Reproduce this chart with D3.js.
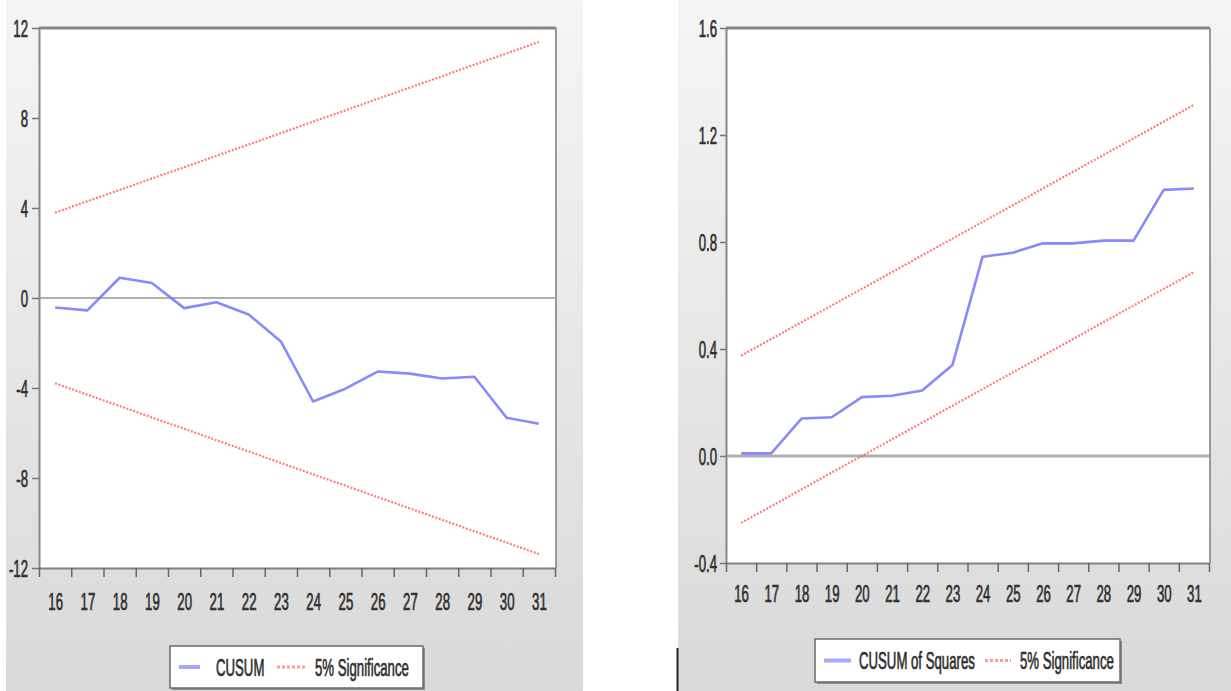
<!DOCTYPE html>
<html>
<head>
<meta charset="utf-8">
<script src="https://cdn.jsdelivr.net/npm/d3@7"></script>
<style>
  body { margin: 0; background: #fff; }
  svg { display: block; }
  text { font-family: "Liberation Sans", Arial, sans-serif; fill: #2e2e2e; stroke: #2e2e2e; stroke-width: 0.7px; }
</style>
</head>
<body>
<svg id="chart" width="1231" height="691"></svg>
<script>
// observation labels on the x axis
const periods = [16, 17, 18, 19, 20, 21, 22, 23, 24, 25, 26, 27, 28, 29, 30, 31];

// CUSUM test (left panel)
const cusum = [-0.42, -0.55, 0.9, 0.67, -0.45, -0.19, -0.73, -1.93, -4.6, -4.03, -3.27, -3.36, -3.58, -3.5, -5.32, -5.59];
const cusumUpper = [3.79, 4.30, 4.80, 5.31, 5.81, 6.32, 6.82, 7.33, 7.84, 8.34, 8.85, 9.35, 9.86, 10.37, 10.87, 11.38];
const cusumLower = [-3.79, -4.30, -4.80, -5.31, -5.81, -6.32, -6.82, -7.33, -7.84, -8.34, -8.85, -9.35, -9.86, -10.37, -10.87, -11.38];
const cusumTicks = [-12, -8, -4, 0, 4, 8, 12];

// CUSUM of squares test (right panel)
const cusumSq = [0.01, 0.01, 0.14, 0.145, 0.22, 0.225, 0.245, 0.34, 0.745, 0.76, 0.795, 0.795, 0.805, 0.805, 0.995, 1.0];
const sqUpper = [0.375, 0.4375, 0.5, 0.5625, 0.625, 0.6875, 0.75, 0.8125, 0.875, 0.9375, 1.0, 1.0625, 1.125, 1.1875, 1.25, 1.3125];
const sqLower = [-0.25, -0.1875, -0.125, -0.0625, 0.0, 0.0625, 0.125, 0.1875, 0.25, 0.3125, 0.375, 0.4375, 0.5, 0.5625, 0.625, 0.6875];
const sqTicks = [-0.4, 0.0, 0.4, 0.8, 1.2, 1.6];

const SX = 0.55; // narrow font look
const svg = d3.select('#chart');

const defs = svg.append('defs');
const grad = defs.append('linearGradient')
  .attr('id', 'bg').attr('x1', 0).attr('y1', 0).attr('x2', 0).attr('y2', 1);
grad.append('stop').attr('offset', '0%').attr('stop-color', '#f5f5f5');
grad.append('stop').attr('offset', '100%').attr('stop-color', '#d9d9d9');

function narrowText(sel, anchor) {
  sel.attr('text-anchor', anchor)
    .attr('transform', 'scale(' + SX + ',1)');
}

function drawPanel(cfg) {
  const g = svg.append('g');

  g.append('rect')
    .attr('x', cfg.bg[0]).attr('y', 0)
    .attr('width', cfg.bg[1] - cfg.bg[0]).attr('height', 691)
    .attr('fill', 'url(#bg)');

  const x = d3.scaleLinear().domain([15.5, 31.5]).range([cfg.left, cfg.right]);
  const y = d3.scaleLinear().domain(cfg.yDomain).range([cfg.bottom, cfg.top]);

  g.append('rect')
    .attr('x', cfg.left).attr('y', cfg.top)
    .attr('width', cfg.right - cfg.left).attr('height', cfg.bottom - cfg.top)
    .attr('fill', '#fff');

  // zero line
  g.append('line')
    .attr('x1', cfg.left).attr('x2', cfg.right)
    .attr('y1', y(0)).attr('y2', y(0))
    .attr('stroke', '#b0b0b0').attr('stroke-width', cfg.zeroWidth);

  // frame: top and right
  g.append('line')
    .attr('x1', cfg.left).attr('x2', cfg.right + 1)
    .attr('y1', cfg.top).attr('y2', cfg.top)
    .attr('stroke', '#858585').attr('stroke-width', 3);
  g.append('line')
    .attr('x1', cfg.right + 1).attr('x2', cfg.right + 1)
    .attr('y1', cfg.top).attr('y2', cfg.bottom)
    .attr('stroke', '#999').attr('stroke-width', 2);

  // y axis
  const yAxis = g.append('g')
    .attr('transform', 'translate(' + cfg.left + ',0)')
    .call(d3.axisLeft(y).tickValues(cfg.ticks).tickSize(cfg.yTick).tickSizeOuter(0)
      .tickFormat(cfg.fmt));
  yAxis.select('.domain').attr('stroke', '#888').attr('stroke-width', 2);
  yAxis.selectAll('.tick line').attr('stroke', '#777').attr('stroke-width', 1.5);
  yAxis.selectAll('.tick text')
    .attr('font-size', 24)
    .attr('fill', '#2e2e2e')
    .attr('x', -cfg.yLabelGap / SX)
    .attr('dy', '0.35em')
    .call(narrowText, 'end');

  // x axis: marks on boundaries, labels in the middle
  const xMarks = g.append('g')
    .attr('transform', 'translate(0,' + cfg.bottom + ')')
    .call(d3.axisBottom(x).tickValues(d3.range(15.5, 32, 1)).tickSize(9).tickSizeOuter(0)
      .tickFormat(''));
  xMarks.select('.domain').attr('stroke', '#808080').attr('stroke-width', 2);
  xMarks.selectAll('.tick line').attr('stroke', '#666').attr('stroke-width', 1.5);

  const xLabels = g.append('g')
    .attr('transform', 'translate(0,' + cfg.bottom + ')')
    .call(d3.axisBottom(x).tickValues(periods).tickSize(0).tickFormat(d3.format('d')));
  xLabels.select('.domain').remove();
  xLabels.selectAll('.tick text')
    .attr('font-size', 24)
    .attr('fill', '#2e2e2e')
    .attr('y', cfg.xLabelY)
    .attr('dy', null)
    .call(narrowText, 'middle');

  const line = d3.line()
    .x((d, i) => x(periods[i]))
    .y(d => y(d));

  [cfg.upper, cfg.lower].forEach(band => {
    g.append('path')
      .datum(band)
      .attr('d', line)
      .attr('fill', 'none')
      .attr('stroke', '#ff5a5a')
      .attr('stroke-width', 2.2)
      .attr('stroke-dasharray', '2,1.6')
      .attr('opacity', 0.8);
  });

  g.append('path')
    .datum(cfg.series)
    .attr('d', line)
    .attr('fill', 'none')
    .attr('stroke', '#7373ff')
    .attr('stroke-width', 2.6)
    .attr('stroke-linejoin', 'round')
    .attr('opacity', 0.85);

  // legend
  const lg = cfg.legend;
  g.append('rect')
    .attr('x', lg.x + 2).attr('y', lg.y + 2)
    .attr('width', lg.w).attr('height', lg.h)
    .attr('fill', '#8c8c8c');
  g.append('rect')
    .attr('x', lg.x).attr('y', lg.y)
    .attr('width', lg.w).attr('height', lg.h)
    .attr('fill', '#fff').attr('stroke', '#6a6a6a').attr('stroke-width', 1.5);

  const cy = lg.y + lg.h / 2;
  g.append('line')
    .attr('x1', lg.blue[0]).attr('x2', lg.blue[1])
    .attr('y1', cy).attr('y2', cy)
    .attr('stroke', '#a8a8ff').attr('stroke-width', 4);
  g.append('line')
    .attr('x1', lg.red[0]).attr('x2', lg.red[1])
    .attr('y1', cy).attr('y2', cy)
    .attr('stroke', '#ff9a9a').attr('stroke-width', 3)
    .attr('stroke-dasharray', '3,2');

  [[lg.label, lg.t1], ['5% Significance', lg.t2]].forEach(([txt, tx]) => {
    g.append('text')
      .attr('x', tx / SX).attr('y', cy + 8.6)
      .attr('font-size', 24)
      .text(txt)
      .call(narrowText, 'start');
  });
}

drawPanel({
  bg: [6, 583],
  left: 39, right: 555, top: 28, bottom: 568,
  yDomain: [-12, 12], ticks: cusumTicks, fmt: d => String(d),
  yTick: 7, yLabelGap: 11, xLabelY: 42, zeroWidth: 2,
  series: cusum, upper: cusumUpper, lower: cusumLower,
  legend: { x: 170, y: 646, w: 253, h: 42, blue: [179, 200], red: [277, 305],
    label: 'CUSUM', t1: 216, t2: 315 }
});

drawPanel({
  bg: [678, 1231],
  left: 726, right: 1209, top: 28, bottom: 563,
  yDomain: [-0.4, 1.6], ticks: sqTicks, fmt: d => d.toFixed(1),
  yTick: 6, yLabelGap: 9, xLabelY: 39, zeroWidth: 3,
  series: cusumSq, upper: sqUpper, lower: sqLower,
  legend: { x: 815, y: 639, w: 305, h: 43, blue: [824, 851], red: [985, 1011],
    label: 'CUSUM of Squares', t1: 859, t2: 1020 }
});

// stray dark edge at the left of the second panel
svg.append('line')
  .attr('x1', 677.5).attr('x2', 677.5)
  .attr('y1', 648).attr('y2', 691)
  .attr('stroke', '#222').attr('stroke-width', 2);
</script>
</body>
</html>
